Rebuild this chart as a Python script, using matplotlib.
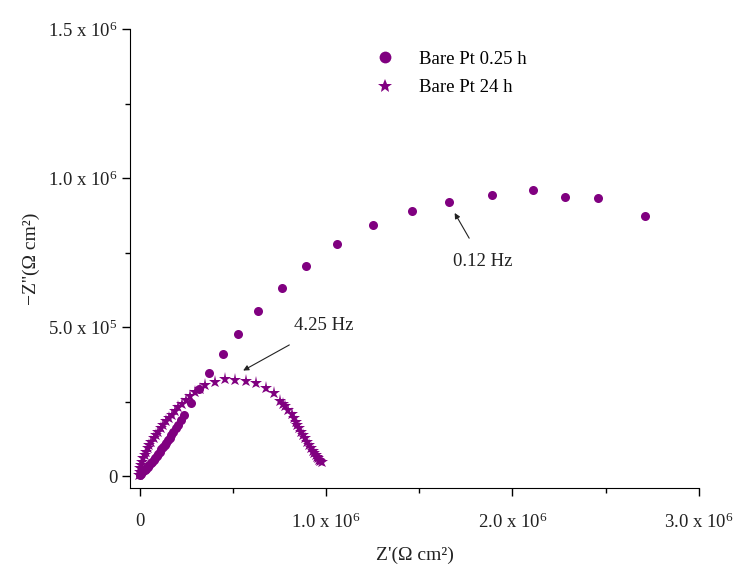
import numpy as np
import matplotlib
matplotlib.use("Agg")
import matplotlib.pyplot as plt
from matplotlib.ticker import FixedLocator, FixedFormatter

plt.rcParams['font.family'] = ['Liberation Serif', 'DejaVu Serif']
plt.rcParams['mathtext.fontset'] = 'custom'
plt.rcParams['mathtext.rm'] = 'Liberation Serif'
plt.rcParams['mathtext.it'] = 'Liberation Serif:italic'

# Bare Pt 0.25 h (units of 1e6 ohm cm^2)
zre_short = [0.000, 0.006, 0.012, 0.019, 0.026, 0.034, 0.042, 0.050, 0.058, 0.066,
             0.075, 0.084, 0.092, 0.100, 0.108, 0.116, 0.125, 0.133, 0.142, 0.151,
             0.160, 0.170, 0.180, 0.192, 0.205, 0.222, 0.240, 0.275, 0.320, 0.374,
             0.447, 0.528, 0.635, 0.764, 0.893, 1.059, 1.253, 1.462, 1.659, 1.890,
             2.108, 2.282, 2.458, 2.710]
zim_short = [0.004, 0.008, 0.012, 0.016, 0.020, 0.025, 0.030, 0.036, 0.042, 0.048,
             0.055, 0.061, 0.068, 0.075, 0.082, 0.090, 0.097, 0.104, 0.112, 0.120,
             0.128, 0.138, 0.148, 0.160, 0.172, 0.188, 0.205, 0.245, 0.292, 0.347,
             0.410, 0.477, 0.555, 0.631, 0.705, 0.779, 0.843, 0.890, 0.920, 0.943,
             0.960, 0.937, 0.932, 0.873]

# Bare Pt 24 h
zre_long = [-0.004, 0.000, 0.004, 0.008, 0.013, 0.020, 0.027, 0.034, 0.043, 0.052,
            0.062, 0.074, 0.087, 0.100, 0.113, 0.127, 0.143, 0.159, 0.175, 0.190,
            0.208, 0.226, 0.248, 0.270, 0.297, 0.324, 0.351, 0.404, 0.458, 0.512,
            0.571, 0.624, 0.676, 0.722, 0.753, 0.767, 0.781, 0.798, 0.815, 0.826,
            0.837, 0.846, 0.856, 0.867, 0.878, 0.889, 0.899, 0.909, 0.919, 0.928,
            0.937, 0.945, 0.952, 0.958, 0.964, 0.970, 0.976]
zim_long = [0.005, 0.015, 0.026, 0.037, 0.048, 0.060, 0.071, 0.082, 0.093, 0.104,
            0.115, 0.126, 0.137, 0.149, 0.160, 0.172, 0.183, 0.195, 0.206, 0.217,
            0.230, 0.243, 0.256, 0.269, 0.281, 0.293, 0.305, 0.316, 0.325, 0.321,
            0.319, 0.313, 0.296, 0.277, 0.252, 0.243, 0.234, 0.221, 0.208, 0.195,
            0.182, 0.171, 0.160, 0.148, 0.137, 0.126, 0.115, 0.104, 0.093, 0.085,
            0.076, 0.070, 0.064, 0.059, 0.055, 0.051, 0.048]

labels = ['Bare Pt 0.25 h', 'Bare Pt 24 h']
xticks = [0, 1e6, 2e6, 3e6]
xticklabels = ['0', r'1.0 x 10$^{6}$', r'2.0 x 10$^{6}$', r'3.0 x 10$^{6}$']
yticks = [0, 5e5, 1e6, 1.5e6]
yticklabels = ['0', r'5.0 x 10$^{5}$', r'1.0 x 10$^{6}$', r'1.5 x 10$^{6}$']

purple = '#800080'

fig = plt.figure(figsize=(7.41, 5.72), dpi=100)
ax = fig.add_axes([0.176, 0.147, 0.767, 0.802])

ax.plot(np.array(zre_short) * 1e6, np.array(zim_short) * 1e6, 'o', color=purple,
        markersize=6.5, markeredgewidth=0, label=labels[0])
ax.plot(np.array(zre_long) * 1e6, np.array(zim_long) * 1e6, '*', color=purple,
        markersize=9.5, markeredgewidth=0, label=labels[1])

ax.set_xlim(-0.05e6, 3.0e6)
ax.set_ylim(-0.04e6, 1.5e6)

ax.spines['top'].set_visible(False)
ax.spines['right'].set_visible(False)

ax.xaxis.set_major_locator(FixedLocator(xticks))
ax.xaxis.set_major_formatter(FixedFormatter(xticklabels))
ax.xaxis.set_minor_locator(FixedLocator([0.5e6, 1.5e6, 2.5e6]))
ax.yaxis.set_major_locator(FixedLocator(yticks))
ax.yaxis.set_major_formatter(FixedFormatter(yticklabels))
ax.yaxis.set_minor_locator(FixedLocator([0.25e6, 0.75e6, 1.25e6]))

ax.tick_params(which='major', direction='out', length=6, width=1, labelsize=13.5,
               labelcolor='#222222')
ax.tick_params(which='minor', direction='out', length=3.5, width=1)
ax.tick_params(axis='x', pad=12)

ax.set_xlabel("Z'(\u03a9 cm\u00b2)", fontsize=14, color='#222222', labelpad=10)
ax.set_ylabel("\u2212Z''(\u03a9 cm\u00b2)", fontsize=14, color='#222222', labelpad=6)

ax.annotate('0.12 Hz', xy=(1.69e6, 0.883e6), xytext=(1.84e6, 0.72e6),
            ha='center', va='center', fontsize=13.5, color='#222222',
            arrowprops=dict(arrowstyle='-|>', color='#222222', lw=0.8,
                            mutation_scale=8, shrinkA=10, shrinkB=0))
ax.annotate('4.25 Hz', xy=(0.555e6, 0.354e6), xytext=(0.99e6, 0.505e6),
            ha='center', va='center', fontsize=13.5, color='#222222',
            arrowprops=dict(arrowstyle='-|>', color='#222222', lw=0.8,
                            mutation_scale=8, shrinkA=12, shrinkB=0))

leg = ax.legend(loc='upper left', bbox_to_anchor=(0.385, 0.99), frameon=False,
                fontsize=13.5, handletextpad=0.8, labelspacing=0.6)
leg.legend_handles[0].set_markersize(8.5)
leg.legend_handles[1].set_markersize(10)

fig.savefig('out.png', dpi=100)
